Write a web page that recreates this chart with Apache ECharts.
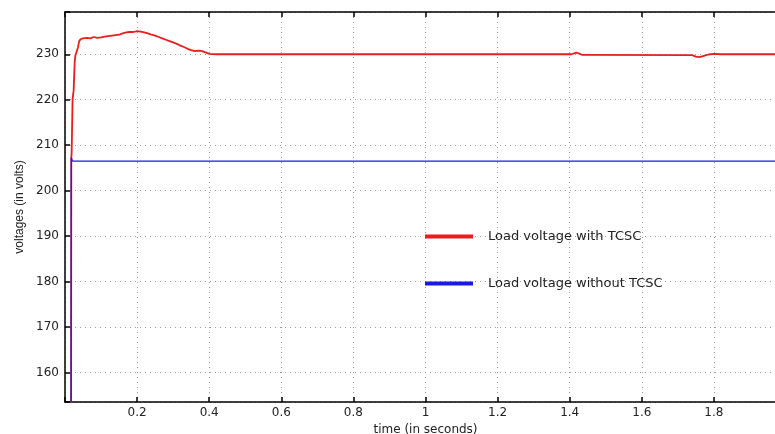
<!DOCTYPE html>
<html>
<head>
<meta charset="utf-8">
<script src="https://cdn.jsdelivr.net/npm/echarts@6/dist/echarts.min.js"></script>
<style>
html,body{margin:0;padding:0;background:#fff;}
#container{width:775px;height:434px;}
</style>
</head>
<body>
<div id="container"></div>
<script>
// load voltage with TCSC (time in s, voltage in V)
var redTime = [0.0165, 0.0175, 0.0185, 0.0195, 0.021, 0.0225, 0.023, 0.024, 0.027, 0.029,
	0.033, 0.036, 0.039, 0.043, 0.05, 0.06, 0.07, 0.08, 0.09, 0.095,
	0.1, 0.11, 0.12, 0.13, 0.14, 0.15, 0.16, 0.17, 0.175, 0.18,
	0.185, 0.19, 0.195, 0.2, 0.205, 0.21, 0.215, 0.22, 0.225, 0.23,
	0.235, 0.24, 0.245, 0.25, 0.255, 0.26, 0.265, 0.27, 0.275, 0.28,
	0.285, 0.29, 0.295, 0.3, 0.305, 0.31, 0.315, 0.32, 0.33, 0.34,
	0.35, 0.36, 0.37, 0.38, 0.39, 0.4, 0.42, 1.405, 1.41, 1.418,
	1.425, 1.435, 1.44, 1.74, 1.75, 1.76, 1.77, 1.785, 1.8, 1.82, 2.0];
var redVolt = [120, 207, 208.5, 213, 220, 220.3, 221.5, 222, 228.5, 229.8,
	230.2, 231.5, 232.8, 233.3, 233.5, 233.6, 233.5, 233.8, 233.6, 233.4,
	233.7, 233.9, 234.0, 234.1, 234.2, 234.3, 234.6, 234.8, 234.7, 234.9,
	235.0, 234.9, 235.3, 235.1, 235.4, 235.0, 235.2, 234.8, 235.0, 234.6,
	234.7, 234.3, 234.5, 234.1, 234.2, 233.8, 233.9, 233.5, 233.6, 233.2,
	233.3, 232.9, 232.9, 232.6, 232.7, 232.3, 232.2, 231.9, 231.6, 231.2,
	230.9, 230.7, 230.8, 230.7, 230.4, 230.1, 230.0, 230.0, 230.2, 230.35,
	230.2, 229.85, 229.8, 229.8, 229.5, 229.35, 229.6, 229.95, 230.1, 230.0, 230.0];

// load voltage without TCSC
var blueTime = [0.0165, 0.0172, 0.019, 0.021, 2.0];
var blueVolt = [120, 207.3, 207.0, 206.5, 206.5];

var seriesNames = ['Load voltage with TCSC', 'Load voltage without TCSC'];
var xTicks = [0.2, 0.4, 0.6, 0.8, 1, 1.2, 1.4, 1.6, 1.8];

function pairs(t, v){
	var d = [];
	for(var i=0;i<t.length;i++){
		d.push([t[i], v[i]]);
	}
	return d;
}

var chart = echarts.init(document.getElementById('container'));
var font = 'DejaVu Sans';
var option = {
	animation: false,
	backgroundColor: '#fff',
	grid: {
		left: 65,
		top: 12,
		right: -11,
		bottom: 32,
		containLabel: false,
		outerBoundsMode: 'none'
	},
	legend: {
		data: seriesNames,
		orient: 'vertical',
		left: 420,
		top: 225,
		itemWidth: 48,
		itemHeight: 4,
		itemGap: 34,
		icon: 'rect',
		textStyle: {
			color: '#222',
			fontSize: 13,
			fontFamily: font,
			padding: [0, 0, 0, 10]
		}
	},
	xAxis: [{
		type: 'value',
		min: 0,
		max: 2,
		interval: 0.2,
		position: 'bottom',
		name: 'time (in seconds)',
		nameLocation: 'middle',
		nameGap: 15,
		nameTextStyle: {color: '#222', fontSize: 12, fontFamily: font},
		axisLine: {show: true, lineStyle: {color: '#000', width: 1.5}},
		axisTick: {show: true, inside: true, length: 5, lineStyle: {color: '#000', width: 1.5}},
		axisLabel: {
			color: '#222', fontSize: 12, fontFamily: font, margin: 5,
			formatter: function(v){
				return xTicks.indexOf(+v.toFixed(1)) >= 0 ? String(+v.toFixed(1)) : '';
			}
		},
		splitLine: {show: true, lineStyle: {color: '#999', type: [1, 4], width: 1}}
	}, {
		type: 'value',
		min: 0,
		max: 2,
		interval: 0.2,
		position: 'top',
		axisLine: {show: true, lineStyle: {color: '#000', width: 1.5}},
		axisTick: {show: true, inside: true, length: 5, lineStyle: {color: '#000', width: 1.5}},
		axisLabel: {show: false},
		splitLine: {show: false}
	}],
	yAxis: {
		type: 'value',
		min: 153.5,
		max: 239.3,
		splitNumber: 8,
		name: 'voltages (in volts)',
		nameLocation: 'middle',
		nameGap: 39,
		nameTextStyle: {color: '#222', fontSize: 12, fontFamily: 'Liberation Sans'},
		axisLine: {show: true, lineStyle: {color: '#000', width: 1.5}},
		axisTick: {show: true, inside: true, length: 5, lineStyle: {color: '#000', width: 1.5}},
		axisLabel: {
			color: '#222', fontSize: 12, fontFamily: font, margin: 6,
			formatter: function(v){
				return (Math.abs(v % 10) < 1e-6) ? String(v) : '';
			}
		},
		splitLine: {show: true, lineStyle: {color: '#999', type: [1, 4], width: 1}}
	},
	series: [{
		name: seriesNames[0],
		type: 'line',
		xAxisIndex: 0,
		showSymbol: false,
		symbol: 'none',
		color: '#e61e1e',
		lineStyle: {color: '#e61e1e', width: 1.8},
		data: pairs(redTime, redVolt)
	}, {
		name: seriesNames[1],
		type: 'line',
		xAxisIndex: 0,
		showSymbol: false,
		symbol: 'none',
		color: '#1818e8',
		lineStyle: {color: '#1818e8', width: 1.2},
		data: pairs(blueTime, blueVolt)
	}]
};
chart.setOption(option);
</script>
</body>
</html>
